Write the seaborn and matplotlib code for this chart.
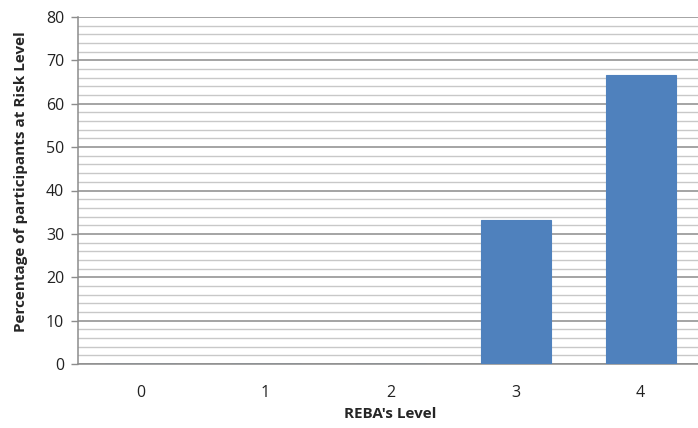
import matplotlib
matplotlib.use("Agg")
import matplotlib.pyplot as plt
from matplotlib.ticker import MultipleLocator
import seaborn as sns
import pandas as pd

levels = ["0", "1", "2", "3", "4"]
percentages = [0.0, 0.0, 0.0, 33.3, 66.7]

df = pd.DataFrame({"level": levels, "pct": percentages})

sns.set_theme(style="white")
plt.rcParams["font.family"] = ["Open Sans", "DejaVu Sans"]

W, H = 698, 428
fig = plt.figure(figsize=(W / 100, H / 100), dpi=100)
left, right, top, bottom = 78, 703, 17, 364
ax = fig.add_axes([left / W, 1 - bottom / H, (right - left) / W, (bottom - top) / H])

sns.barplot(data=df, x="level", y="pct", color="#4F81BD", saturation=1,
            width=0.56, ax=ax, edgecolor="#4F81BD", linewidth=0.8, zorder=3)

ax.set_xlim(-0.5, 4.5)
ax.set_ylim(0, 80)
ax.yaxis.set_major_locator(MultipleLocator(10))
ax.yaxis.set_minor_locator(MultipleLocator(2))
ax.grid(which="major", axis="y", color="#8c8c8c", linewidth=1.1, zorder=0)
ax.grid(which="minor", axis="y", color="#c8c8c8", linewidth=1.0, zorder=0)
ax.set_axisbelow(True)

for side in ("top", "right"):
    ax.spines[side].set_visible(False)
ax.spines["left"].set_color("#8c8c8c")
ax.spines["bottom"].set_color("#8c8c8c")
ax.spines["left"].set_linewidth(1.1)
ax.spines["bottom"].set_linewidth(1.1)

ax.tick_params(axis="y", which="major", left=True, length=5, width=1.0,
               color="#8c8c8c", labelsize=11.5, labelcolor="#222222", pad=5)
ax.tick_params(axis="y", which="minor", left=False)
ax.tick_params(axis="x", bottom=False, labelsize=11.5, labelcolor="#222222", pad=9)

ax.set_xlabel("REBA's Level", fontsize=11, fontweight="bold")
ax.set_ylabel("Percentage of participants at Risk Level", fontsize=11,
              fontweight="bold")
ax.xaxis.set_label_coords((390 - left) / (right - left), -(407 - bottom) / (bottom - top))
ax.yaxis.set_label_coords(-(left - 28) / (right - left), (bottom - 182) / (bottom - top))

fig.savefig("out.png", dpi=100)
